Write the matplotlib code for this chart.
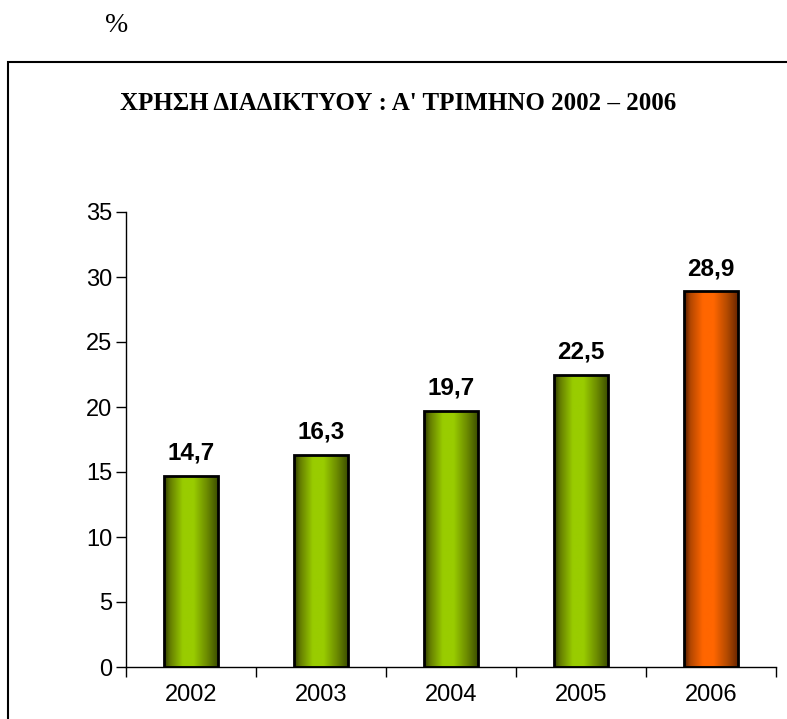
import matplotlib
matplotlib.use("Agg")
import matplotlib.pyplot as plt
import numpy as np
from matplotlib.colors import LinearSegmentedColormap
from matplotlib.patches import Rectangle

years = ["2002", "2003", "2004", "2005", "2006"]
values = [14.7, 16.3, 19.7, 22.5, 28.9]
labels = ["14,7", "16,3", "19,7", "22,5", "28,9"]
highlight = [False, False, False, False, True]
yticks = [0, 5, 10, 15, 20, 25, 30, 35]
title = "ΧΡΗΣΗ ΔΙΑΔΙΚΤΥΟΥ : Α' ΤΡΙΜΗΝΟ 2002 – 2006"

green_cmap = LinearSegmentedColormap.from_list("g", [
    (0.0, "#2e3a00"), (0.12, "#667f00"), (0.35, "#99cc00"), (0.55, "#99cc00"),
    (0.8, "#6b8a00"), (1.0, "#3d4f00")])
orange_cmap = LinearSegmentedColormap.from_list("o", [
    (0.0, "#4d1a00"), (0.12, "#b34700"), (0.35, "#ff6600"), (0.55, "#ff6600"),
    (0.8, "#b34a00"), (1.0, "#6b2600")])

fig = plt.figure(figsize=(7.87, 7.19), dpi=100)
ax = fig.add_axes([126/787, 1-667/719, 650/787, (667-212)/719])

x = np.arange(len(years))
bars = ax.bar(x, values, width=0.41, color="none", edgecolor="black", linewidth=2, zorder=3)
grad = np.linspace(0, 1, 256).reshape(1, -1)
for b, h in zip(bars, highlight):
    x0, y0 = b.get_x(), b.get_y()
    w, hgt = b.get_width(), b.get_height()
    im = ax.imshow(grad, cmap=orange_cmap if h else green_cmap, aspect="auto",
                   extent=[x0, x0 + w, y0, y0 + hgt], zorder=2, interpolation="bilinear")
    im.set_clip_path(b)

for xi, v, lab in zip(x, values, labels):
    ax.annotate(lab, (xi, v), xytext=(0, 8), textcoords="offset points",
                ha="center", va="bottom", fontsize=17.5, fontweight="bold",
                family="Liberation Sans")

ax.set_xlim(-0.5, 4.5)
ax.set_ylim(0, 35)
ax.set_yticks(yticks)
ax.set_yticklabels([str(t) for t in yticks], fontsize=17, family="Liberation Sans")
ax.set_xticks(np.arange(-0.5, 5, 1))
ax.set_xticklabels([])
ax.set_xticks(x, minor=True)
ax.set_xticklabels(years, minor=True, fontsize=17, family="Liberation Sans")
ax.tick_params(axis="x", which="major", length=7, width=1, direction="out")
ax.tick_params(axis="x", which="minor", length=0, pad=12)
ax.tick_params(axis="y", length=7, width=1, direction="out", pad=3)
for s in ["top", "right"]:
    ax.spines[s].set_visible(False)
for s in ["left", "bottom"]:
    ax.spines[s].set_linewidth(1)
    ax.spines[s].set_color("black")

fig.patches.append(Rectangle((8/787, -0.05), 1.0, 1 - 62/719 + 0.05, transform=fig.transFigure,
                             fill=False, edgecolor="black", linewidth=1.5))
fig.text(398.5/787, 1 - 103/719, title, ha="center", va="center", fontsize=18,
         fontweight="bold", family="Liberation Serif")
fig.text(117/787, 1 - 25/719, "%", ha="center", va="center", fontsize=20,
         family="Liberation Serif")

fig.savefig("out.png", dpi=100)
